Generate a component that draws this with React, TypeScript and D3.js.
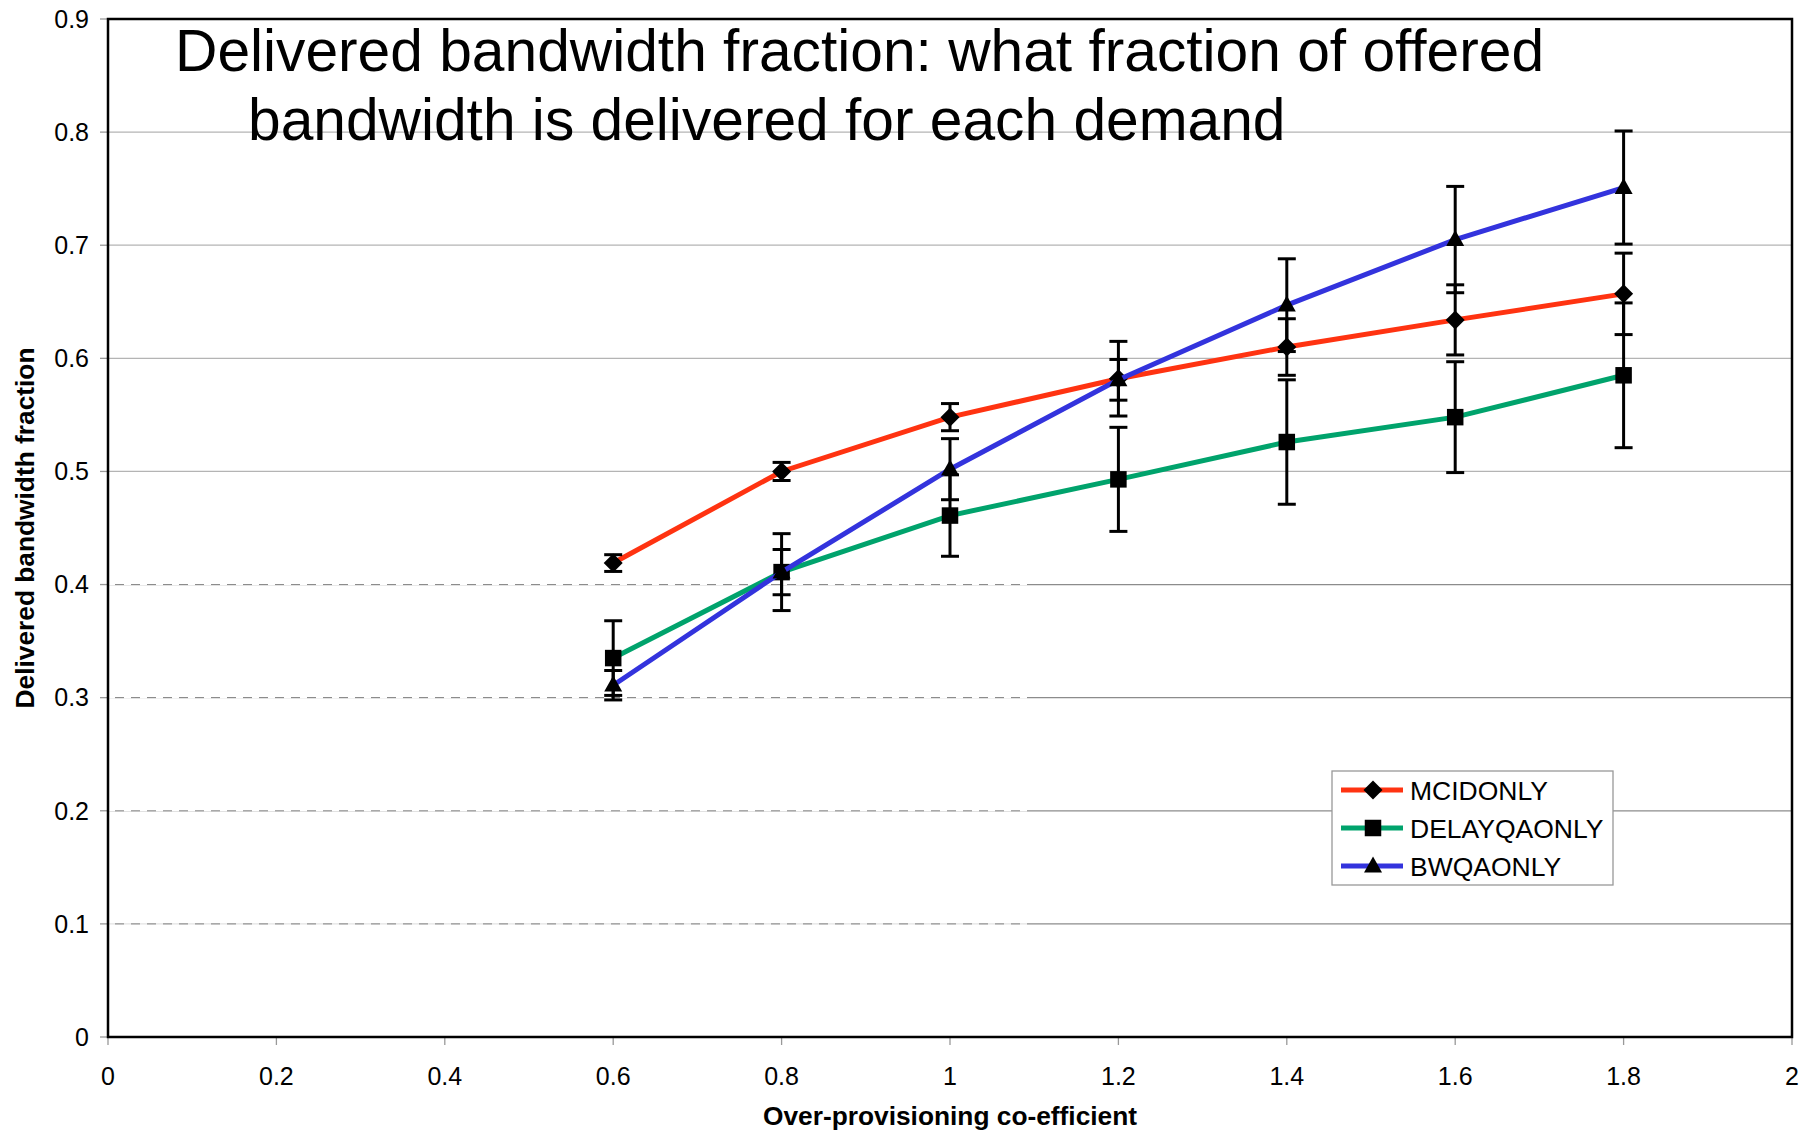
import * as d3 from "d3"

// over-provisioning co-efficient
const xValues = [0.6, 0.8, 1.0, 1.2, 1.4, 1.6, 1.8]

// delivered bandwidth fraction per scheme, with error (half height of bar)
const mcidOnly = [0.419, 0.5, 0.548, 0.582, 0.61, 0.634, 0.657]
const mcidErr = [0.0074, 0.008, 0.012, 0.033, 0.025, 0.031, 0.036]
const delayOnly = [0.335, 0.411, 0.461, 0.493, 0.526, 0.548, 0.585]
const delayErr = [0.033, 0.034, 0.036, 0.046, 0.055, 0.049, 0.064]
const bwOnly = [0.311, 0.411, 0.502, 0.581, 0.647, 0.705, 0.751]
const bwErr = [0.013, 0.02, 0.027, 0.018, 0.041, 0.047, 0.05]

const seriesNames = ["MCIDONLY", "DELAYQAONLY", "BWQAONLY"]
const seriesColors = ["#ff3311", "#00a36c", "#3333dd"]
const seriesMarkers = ["diamond", "square", "triangle"]

const xTicks = [0, 0.2, 0.4, 0.6, 0.8, 1, 1.2, 1.4, 1.6, 1.8, 2]
const xTickLabels = ["0", "0.2", "0.4", "0.6", "0.8", "1", "1.2", "1.4", "1.6", "1.8", "2"]
const yTicks = [0, 0.1, 0.2, 0.3, 0.4, 0.5, 0.6, 0.7, 0.8, 0.9]
const yTickLabels = ["0", "0.1", "0.2", "0.3", "0.4", "0.5", "0.6", "0.7", "0.8", "0.9"]

const titleLines = [
    "Delivered bandwidth fraction: what fraction of offered",
    "bandwidth is delivered for each demand",
]

const WIDTH = 1807
const HEIGHT = 1131
const FONT = "'Liberation Sans', Arial, Helvetica, sans-serif"

function Marker({ kind, cx, cy }: { kind: string; cx: number; cy: number }) {
    if (kind === "diamond") {
        const r = 9.5
        return <path d={`M${cx},${cy - r}L${cx + r},${cy}L${cx},${cy + r}L${cx - r},${cy}Z`} fill="black" />
    }
    if (kind === "square") {
        const s = 16.5
        return <rect x={cx - s / 2} y={cy - s / 2} width={s} height={s} fill="black" />
    }
    const h = 16
    const w = 18
    return <path d={`M${cx},${cy - h * 0.6}L${cx + w / 2},${cy + h * 0.4}L${cx - w / 2},${cy + h * 0.4}Z`} fill="black" />
}

export default function App() {
    const marginLeft = 108
    const marginRight = WIDTH - 1792
    const marginTop = 19
    const marginBottom = HEIGHT - 1037

    const x = d3.scaleLinear()
        .domain([0, 2])
        .range([marginLeft, WIDTH - marginRight])
    const y = d3.scaleLinear()
        .domain([0, 0.9])
        .range([HEIGHT - marginBottom, marginTop])

    const series = [
        { values: mcidOnly, errs: mcidErr },
        { values: delayOnly, errs: delayErr },
        { values: bwOnly, errs: bwErr },
    ]

    const line = d3.line<number>()
        .x((_, i) => x(xValues[i]))
        .y(d => y(d))

    const capHalf = 9

    // legend placement
    const legX = 1332, legY = 771, legW = 281, legH = 114
    const rowH = 38

    return (
        <svg width={WIDTH} height={HEIGHT} viewBox={`0 0 ${WIDTH} ${HEIGHT}`}
            style={{ position: "absolute", left: 0, top: 0, background: "white" }}
            fontFamily={FONT}>
            <rect x={0} y={0} width={WIDTH} height={HEIGHT} fill="white" />

            {/* grid */}
            <g>
                {yTicks.slice(1).map(t => (
                    <line key={t} x1={x(0)} x2={x(2)} y1={y(t)} y2={y(t)}
                        stroke={t < 0.45 ? "#8c8c8c" : "#b4b4b4"} strokeWidth={1.3} />
                ))}
                {yTicks.slice(1).filter(t => t < 0.45).map(t => (
                    <line key={'d' + t} x1={x(0)} x2={x(1.1)} y1={y(t)} y2={y(t)}
                        stroke="white" strokeWidth={1.5} strokeDasharray="7,9" />
                ))}
            </g>

            {/* ticks */}
            <g stroke="#999" strokeWidth={1.3}>
                {yTicks.map(t => (
                    <line key={t} x1={x(0) - 8} x2={x(0)} y1={y(t)} y2={y(t)} />
                ))}
                {xTicks.map(t => (
                    <line key={t} x1={x(t)} x2={x(t)} y1={y(0)} y2={y(0) + 8} />
                ))}
            </g>

            {/* plot frame */}
            <rect x={x(0)} y={y(0.9)} width={x(2) - x(0)} height={y(0) - y(0.9)}
                fill="none" stroke="black" strokeWidth={2.5} />

            {/* tick labels */}
            <g fontSize={25} fill="black">
                {yTicks.map((t, i) => (
                    <text key={t} x={x(0) - 19} y={y(t)} dy="0.35em" textAnchor="end">{yTickLabels[i]}</text>
                ))}
                {xTicks.map((t, i) => (
                    <text key={t} x={x(t)} y={1085} textAnchor="middle">{xTickLabels[i]}</text>
                ))}
            </g>

            {/* axis titles */}
            <text x={(x(0) + x(2)) / 2} y={1125} textAnchor="middle" fontSize={26.3} fontWeight="bold">
                Over-provisioning co-efficient
            </text>
            <text transform={`translate(34,${(y(0) + y(0.9)) / 2})rotate(-90)`} textAnchor="middle"
                fontSize={26.3} fontWeight="bold">
                Delivered bandwidth fraction
            </text>

            {/* series */}
            {series.map((s, si) => (
                <g key={si}>
                    <path d={line(s.values) ?? ""} fill="none" stroke={seriesColors[si]} strokeWidth={5} />
                    <g stroke="black" strokeWidth={3}>
                        {s.values.map((v, i) => {
                            const cx = x(xValues[i])
                            const top = y(v + s.errs[i])
                            const bot = y(v - s.errs[i])
                            return (
                                <g key={i}>
                                    <line x1={cx} x2={cx} y1={top} y2={bot} />
                                    <line x1={cx - capHalf} x2={cx + capHalf} y1={top} y2={top} />
                                    <line x1={cx - capHalf} x2={cx + capHalf} y1={bot} y2={bot} />
                                </g>
                            )
                        })}
                    </g>
                    {s.values.map((v, i) => (
                        <Marker key={i} kind={seriesMarkers[si]} cx={x(xValues[i])} cy={y(v)} />
                    ))}
                </g>
            ))}

            {/* title */}
            <g fontSize={58.7} fill="black">
                <text x={175} y={71}>{titleLines[0]}</text>
                <text x={248} y={140}>{titleLines[1]}</text>
            </g>

            {/* legend */}
            <g>
                <rect x={legX} y={legY} width={legW} height={legH} fill="white" stroke="#999" strokeWidth={1.3} />
                {seriesNames.map((name, i) => {
                    const cy = legY + 19 + i * rowH
                    return (
                        <g key={name}>
                            <line x1={legX + 9} x2={legX + 71} y1={cy} y2={cy} stroke={seriesColors[i]} strokeWidth={5} />
                            <Marker kind={seriesMarkers[i]} cx={legX + 41} cy={cy} />
                            <text x={legX + 78} y={cy} dy="0.36em" fontSize={26.5}>{name}</text>
                        </g>
                    )
                })}
            </g>
        </svg>
    )
}
